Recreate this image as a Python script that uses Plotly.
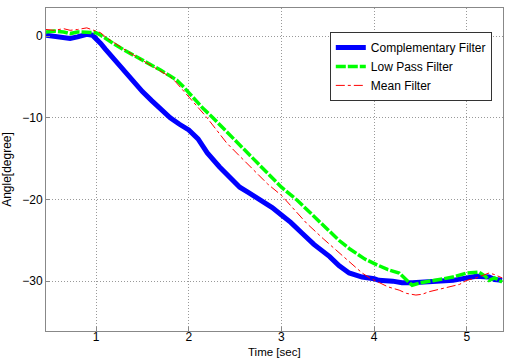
import plotly.graph_objects as go

# Complementary filter
comp_t = [0.46,0.55,0.65,0.72,0.8,0.9,0.96,1.0,1.05,1.1,1.2,1.3,1.37,1.5,1.6,1.7,1.8,1.9,2.0,2.1,2.2,2.33,2.45,2.55,2.65,2.78,2.9,3.0,3.1,3.22,3.35,3.52,3.62,3.73,3.87,4.0,4.05,4.2,4.3,4.41,4.55,4.7,4.85,5.0,5.1,5.24,5.3,5.38]
comp_y = [0.1,0.0,-0.1,-0.3,-0.1,0.2,0.1,-0.3,-0.9,-1.6,-2.9,-4.2,-5.2,-6.8,-7.9,-9.0,-10.0,-10.8,-11.5,-12.6,-14.3,-16.0,-17.4,-18.5,-19.2,-20.1,-21.0,-21.9,-22.8,-24.1,-25.5,-27.0,-28.1,-29.0,-29.5,-29.7,-29.9,-30.0,-30.2,-30.2,-30.1,-30.1,-29.9,-29.6,-29.4,-29.5,-29.8,-29.9]

# Low pass filter
lp_t = [0.46,0.55,0.65,0.72,0.8,0.9,1.0,1.05,1.1,1.2,1.3,1.4,1.5,1.6,1.7,1.8,1.87,1.95,2.05,2.15,2.26,2.4,2.55,2.69,2.85,3.0,3.17,3.35,3.52,3.62,3.73,3.9,4.03,4.15,4.27,4.35,4.41,4.5,4.6,4.7,4.85,5.0,5.13,5.2,5.24,5.3,5.38]
lp_y = [0.5,0.6,0.5,0.3,0.5,0.5,0.4,0.1,-0.3,-1.0,-1.7,-2.3,-2.9,-3.5,-4.2,-4.9,-5.4,-6.3,-7.6,-8.8,-10.0,-11.6,-13.3,-14.9,-16.8,-18.5,-20.1,-22.1,-24.0,-25.0,-26.0,-27.3,-28.0,-28.6,-29.0,-29.8,-30.5,-30.2,-30.0,-29.9,-29.5,-29.0,-28.9,-29.4,-29.9,-29.6,-30.1]

# Mean filter
mean_t = [0.46,0.55,0.65,0.72,0.8,0.9,1.0,1.05,1.1,1.2,1.3,1.4,1.5,1.6,1.7,1.8,1.85,1.95,2.05,2.19,2.3,2.41,2.55,2.73,2.85,3.0,3.15,3.27,3.45,3.59,3.75,3.87,3.95,4.05,4.15,4.27,4.35,4.45,4.52,4.59,4.7,4.84,4.92,5.0,5.1,5.24,5.3,5.38]
mean_y = [0.8,0.7,0.9,0.7,0.8,1.0,0.6,0.4,-0.1,-0.9,-1.6,-2.3,-3.0,-3.7,-4.4,-5.0,-5.5,-6.8,-8.2,-9.9,-11.5,-13.1,-14.7,-16.8,-18.1,-19.5,-21.4,-22.9,-24.8,-26.2,-27.8,-29.0,-29.6,-30.2,-30.7,-31.1,-31.5,-31.7,-31.6,-31.3,-31.0,-30.7,-30.4,-29.9,-29.6,-29.0,-29.2,-29.6]

x_ticks = [1, 2, 3, 4, 5]
y_ticks = [0, -10, -20, -30]

fig = go.Figure()
fig.add_trace(go.Scatter(x=comp_t, y=comp_y, mode="lines", name="Complementary Filter",
                         line=dict(color="#0000ff", width=5)))
fig.add_trace(go.Scatter(x=lp_t, y=lp_y, mode="lines", name="Low Pass Filter",
                         line=dict(color="#00ff00", width=3.5, dash="10px,2px")))
fig.add_trace(go.Scatter(x=mean_t, y=mean_y, mode="lines", name="Mean Filter",
                         line=dict(color="#ff0000", width=1, dash="dashdot")))

axis_common = dict(showline=True, linecolor="#888888", linewidth=1, mirror=True,
                   showgrid=True, gridcolor="#999999", griddash="1px,2px", gridwidth=1,
                   zeroline=False, ticks="inside", ticklen=4, tickcolor="#888888",
                   tickfont=dict(family="Liberation Sans, Arial", size=12, color="#000000"))

fig.update_layout(
    width=505, height=359,
    margin=dict(l=46, r=2, t=8, b=28),
    paper_bgcolor="white", plot_bgcolor="white",
    font=dict(family="Liberation Sans, Arial", size=12, color="#000000"),
    xaxis=dict(range=[0.46, 5.39], tickvals=x_ticks, ticklabelstandoff=-5, **axis_common),
    yaxis=dict(range=[-36.1, 3.43], tickvals=y_ticks,
               title=dict(text="Angle[degree]", standoff=8, font=dict(size=12)), **axis_common),
    legend=dict(x=0.621, y=0.926, xanchor="left", yanchor="top",
                bgcolor="white", bordercolor="#333333", borderwidth=1,
                font=dict(size=12), tracegroupgap=0),
    annotations=[dict(text="Time [sec]", xref="paper", yref="paper", x=0.5, y=-0.0867,
                      xanchor="center", yanchor="bottom", showarrow=False, borderpad=0,
                      font=dict(size=11.5))],
    showlegend=True,
)

fig.write_html("out.html")
